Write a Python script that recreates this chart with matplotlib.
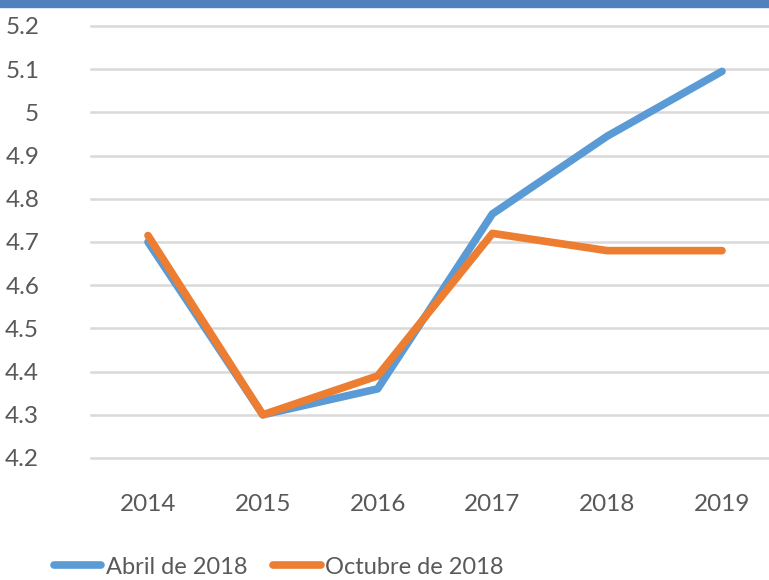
import matplotlib.pyplot as plt
from matplotlib.patches import Rectangle
from matplotlib.lines import Line2D

years = ['2014', '2015', '2016', '2017', '2018', '2019']
abril = [4.70, 4.30, 4.36, 4.765, 4.945, 5.095]
octubre = [4.715, 4.30, 4.39, 4.72, 4.68, 4.68]
yticks = [4.2, 4.3, 4.4, 4.5, 4.6, 4.7, 4.8, 4.9, 5.0, 5.1, 5.2]
ylabels = ['4.2', '4.3', '4.4', '4.5', '4.6', '4.7', '4.8', '4.9', '5', '5.1', '5.2']

plt.rcParams['font.family'] = ['Lato', 'DejaVu Sans']
gray = '#595959'
blue = '#5B9BD5'
orange = '#ED7D31'

fig = plt.figure(figsize=(7.69, 5.80), dpi=100)
ax = fig.add_axes([90.6/769, 1 - 458/580, 688.8/769, (458 - 26)/580])

x = range(len(years))
ax.plot(x, abril, color=blue, lw=5.5, solid_capstyle='round', solid_joinstyle='round', zorder=3)
ax.plot(x, octubre, color=orange, lw=5.5, solid_capstyle='round', solid_joinstyle='round', zorder=4)

ax.set_xlim(-0.5, 5.5)
ax.set_ylim(4.2, 5.2)
ax.set_xticks(list(x))
ax.set_xticklabels(years)
ax.set_yticks(yticks)
ax.set_yticklabels(ylabels)
ax.tick_params(axis='x', length=0, pad=26, labelsize=17.5, labelcolor=gray)
ax.tick_params(axis='y', length=0, pad=37, labelsize=17.5, labelcolor=gray)
ax.grid(axis='y', color='#D9D9D9', lw=1.8)
for gl in ax.get_ygridlines():
    gl.set_clip_on(False)
ax.set_axisbelow(True)
for s in ax.spines.values():
    s.set_visible(False)

handles = [Line2D([], [], color=blue, lw=5.5, solid_capstyle='round'),
           Line2D([], [], color=orange, lw=5.5, solid_capstyle='round')]
leg = fig.legend(handles, ['Abril de 2018', 'Octubre de 2018'], loc='center',
                 bbox_to_anchor=(279/769, 1 - 567/580), ncol=2, frameon=False,
                 fontsize=17, handlelength=2.0, handletextpad=0.2, columnspacing=1.1,
                 borderpad=0, borderaxespad=0)
for t in leg.get_texts():
    t.set_color(gray)

fig.patches.append(Rectangle((0, 1 - 7/580), 1, 7/580, transform=fig.transFigure,
                             color='#4F81BD', zorder=10))

fig.savefig('out.png', dpi=100)
